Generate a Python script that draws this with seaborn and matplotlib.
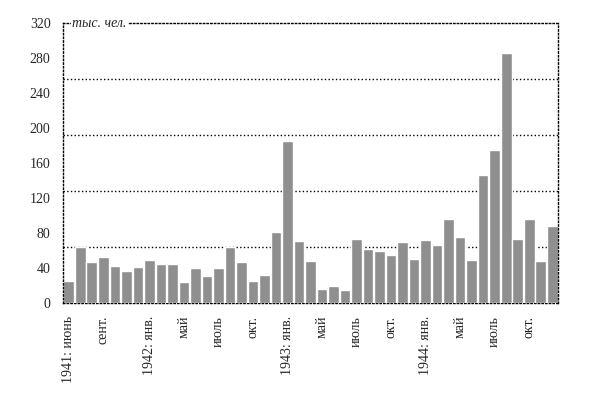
import pandas as pd
import matplotlib
matplotlib.use("Agg")
import matplotlib.pyplot as plt
import seaborn as sns

# monthly values, June 1941 - Dec 1944 (thousand people)
months = [f"{y}-{m:02d}" for y in range(1941, 1945) for m in range(1, 13)][5:]
values = [
    26, 65, 47, 53, 43, 37, 42,                       # 1941 jun-dec
    50, 45, 45, 24, 40, 31, 40, 64, 47, 26, 33, 82,   # 1942
    186, 71, 48, 17, 20, 15, 74, 62, 60, 55, 70, 51,  # 1943
    73, 67, 97, 76, 50, 147, 175, 286, 74, 96, 48, 89  # 1944
]
tick_idx = [0, 3, 7, 10, 13, 16, 19, 22, 25, 28, 31, 34, 37, 40]
tick_labels = ["1941: июнь", "сент.", "1942: янв.", "май", "июль", "окт.",
               "1943: янв.", "май", "июль", "окт.",
               "1944: янв.", "май", "июль", "окт."]
y_ticks = [0, 40, 80, 120, 160, 200, 240, 280, 320]
grid_lines = [64, 128, 192, 256]

df = pd.DataFrame({"month": months, "value": values})

sns.set_style("white")
plt.rcParams["font.family"] = ["Liberation Serif", "DejaVu Serif"]

fig = plt.figure(figsize=(5.9, 3.94), dpi=100)
ax = fig.add_axes([0.1068, 0.2297, 0.839, 0.7112])

for g in grid_lines:
    ax.axhline(g, color="black", linestyle=":", linewidth=1, zorder=0)

sns.barplot(data=df, x="month", y="value", color="#8f8f8f", saturation=1,
            width=0.92, ax=ax, zorder=2)

ax.set_xlim(-0.5, len(values) - 0.5)
ax.set_ylim(0, 320)
ax.set_yticks(y_ticks)
ax.set_yticklabels([str(t) for t in y_ticks], fontsize=10)
ax.set_xticks(tick_idx)
ax.set_xticklabels(tick_labels, rotation=90, fontsize=10, va="top")
ax.tick_params(axis="both", length=0)
ax.tick_params(axis="y", pad=9)
ax.tick_params(axis="x", pad=9)
ax.set_xlabel("")
ax.set_ylabel("")

for side in ["left", "right", "top", "bottom"]:
    ax.spines[side].set_visible(True)
    ax.spines[side].set_linestyle(":")
    ax.spines[side].set_linewidth(1)
    ax.spines[side].set_color("black")
ax.spines["bottom"].set_zorder(0)

ax.text(0.018, 1.0, "тыс. чел.", transform=ax.transAxes, fontsize=10,
        style="italic", va="center", ha="left",
        bbox=dict(facecolor="white", edgecolor="none", pad=1), zorder=5)

fig.savefig("out.png", dpi=100)
